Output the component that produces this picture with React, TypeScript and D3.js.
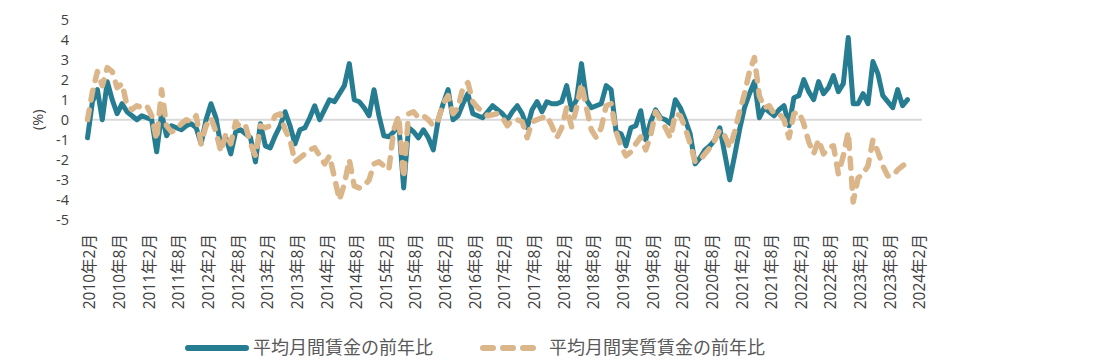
import React from "react";
import * as d3 from "d3";

// monthly y/y change (%), Feb 2010 - Dec 2023
const nominalWage = [
  -0.9, 0.9, 1.5, 0.0, 1.9, 1.0, 0.3, 0.8, 0.4, 0.2, 0.0, 0.2,
  0.1, 0.0, -1.6, 0.3, -0.8, -0.3, -0.4, -0.5, -0.3, -0.2, -0.4, -1.2,
  0.0, 0.8, 0.1, -1.3, -0.9, -1.7, -0.6, -0.5, -0.7, -0.9, -2.1, -0.2,
  -1.3, -1.4, -0.8, -0.3, 0.4, -0.3, -1.2, -0.5, -0.4, 0.1, 0.7, 0.0,
  0.5, 1.0, 0.9, 1.3, 1.7, 2.8, 1.0, 0.9, 0.6, 0.2, 1.5, 0.2,
  -0.8, -0.85, -0.6, -0.2, -3.4, -0.4, -0.6, -0.9, -0.5, -0.9, -1.5, 0.0,
  0.8, 1.5, 0.0, 0.2, 0.8, 1.3, 0.3, 0.2, 0.1, 0.4, 0.7, 0.5,
  0.3, 0.0, 0.4, 0.7, 0.3, -0.4, 0.5, 0.9, 0.4, 0.9, 0.8, 0.8,
  0.9, 1.7, 0.5, 1.0, 2.8, 1.0, 0.6, 0.7, 0.8, 1.7, 1.5, -0.6,
  -0.7, -1.3, -0.4, -0.3, 0.45, -1.0, -0.1, 0.5, 0.1, 0.0, -0.2, 1.0,
  0.6, 0.0, -0.7, -2.2, -1.9, -1.5, -1.3, -1.0, -0.4, -1.7, -3.0, -1.8,
  -0.5, 0.6, 1.3, 1.9, 0.1, 0.6, 0.4, 0.2, 0.5, 0.7, -0.3, 1.1,
  1.2, 2.0, 1.4, 1.0, 1.9, 1.3, 1.6, 2.2, 1.4, 1.8, 4.1, 0.8,
  0.8, 1.3, 0.8, 2.9, 2.3, 1.2, 0.9, 0.6, 1.5, 0.7, 1.0,
];

const realWage = [
  0.0, 1.4, 2.4, 1.7, 2.6, 2.4, 1.6, 1.8, 0.7, 0.5, 0.7, 0.6,
  0.7, 0.2, -1.0, 1.5, -0.3, -0.6, -0.5, -0.2, 0.0, -0.1, 0.2, -1.2,
  -0.3, 0.1, -0.6, -1.6, -0.7, -1.2, -0.1, -0.4, -0.3, -1.2, -1.8, -0.3,
  -0.4, -0.3, 0.2, 0.3, -0.5, -1.0, -2.1, -1.9, -1.7, -1.5, -1.4, -1.8,
  -2.2, -1.8, -2.9, -4.0, -3.2, -2.0, -3.3, -3.4, -3.3, -3.0, -2.2, -2.1,
  -2.3, -2.5, -0.5, 0.2, -2.9, 0.3, 0.4, 0.1, 0.2, 0.0, -0.3, 0.0,
  0.8, 1.2, 0.3, 0.6, 1.6, 1.85, 0.9, 0.6, 0.4, 0.2, 0.25, 0.3,
  0.1, -0.3, 0.0, 0.0, -0.1, -0.9, -0.1, 0.0, 0.1, 0.2, -0.3, -0.9,
  -0.4, 0.6, -0.35, 0.6, 1.8, 0.6, -0.5, -0.9, -0.4, 0.7, 0.8, -0.6,
  -1.3, -1.8, -1.6, -1.2, -0.85, -1.5, -0.8, 0.4, 0.0, -0.4, -0.9, 0.3,
  0.2, -0.4, -1.2, -2.1, -2.0, -1.7, -1.4, -1.0, -0.5, -0.8, -1.4, -0.6,
  0.4, 1.3, 2.4, 3.1, 1.2, 0.6, 0.7, 0.3, 0.3, 0.0, -0.9, 0.3,
  0.4, -0.2, -1.1, -1.7, -1.0, -1.7, -1.4, -1.3, -2.7, -1.8, -0.6, -4.1,
  -2.9, -2.7, -2.3, -1.0, -1.6, -2.3, -2.8, -2.8, -2.5, -2.3, -2.1,
];

const tickLabels = [
  "2010年2月", "2010年8月", "2011年2月", "2011年8月", "2012年2月", "2012年8月",
  "2013年2月", "2013年8月", "2014年2月", "2014年8月", "2015年2月", "2015年8月",
  "2016年2月", "2016年8月", "2017年2月", "2017年8月", "2018年2月", "2018年8月",
  "2019年2月", "2019年8月", "2020年2月", "2020年8月", "2021年2月", "2021年8月",
  "2022年2月", "2022年8月", "2023年2月", "2023年8月", "2024年2月",
];

const yTicks = [5, 4, 3, 2, 1, 0, -1, -2, -3, -4, -5];

const seriesNames = ["平均月間賃金の前年比", "平均月間実質賃金の前年比"];
const colors = ["#267d92", "#dbb68a"];

const FONT = '"Open Sans", "Noto Sans CJK JP", sans-serif';
const DASH = "10 10";

export default function App() {
  const nMonths = (tickLabels.length - 1) * 6; // Feb 2010 .. Feb 2024
  const x = d3.scaleLinear().domain([0, nMonths]).range([87.5, 917.4]);
  const y = d3.scaleLinear().domain([-5, 5]).range([220, 19.5]);

  const line = d3
    .line<number>()
    .x((_, i) => x(i))
    .y((d) => y(d));

  return (
    <svg
      width={1102}
      height={362}
      style={{ position: "absolute", left: 0, top: 0, background: "#fff" }}
      fontFamily={FONT}
    >
      {/* zero line */}
      <line x1={x(0) - 2.5} x2={x(nMonths) + 4.5} y1={y(0)} y2={y(0)} stroke="#d9d9d9" strokeWidth={2} />

      {/* y axis labels */}
      {yTicks.map((t) => (
        <text key={t} x={69} y={y(t)} dy="0.35em" textAnchor="end" fontSize={14.5} fill="#404040">
          {t}
        </text>
      ))}
      <text
        transform={`translate(38,${y(0)}) rotate(-90)`}
        textAnchor="middle"
        dy="0.35em"
        fontSize={14.5}
        fill="#404040"
      >
        (%)
      </text>

      {/* x axis labels */}
      {tickLabels.map((lab, k) => (
        <text
          key={lab}
          transform={`translate(${x(k * 6) + 2.5},234) rotate(-90)`}
          textAnchor="end"
          dy="0.35em"
          fontSize={15.5}
          fill="#404040"
        >
          {lab}
        </text>
      ))}

      {/* series */}
      <path d={line(nominalWage) ?? ""} fill="none" stroke={colors[0]} strokeWidth={5} strokeLinejoin="round" strokeLinecap="round" />
      <path
        d={line(realWage) ?? ""}
        fill="none"
        stroke={colors[1]}
        strokeWidth={5.5}
        strokeLinejoin="round"
        strokeLinecap="round"
        strokeDasharray={DASH}
      />

      {/* legend */}
      <line x1={188} x2={246} y1={348} y2={348} stroke={colors[0]} strokeWidth={6} strokeLinecap="round" />
      <text x={253} y={348} dy="0.35em" fontSize={18} fill="#595959">
        {seriesNames[0]}
      </text>
      <line
        x1={483}
        x2={534}
        y1={348}
        y2={348}
        stroke={colors[1]}
        strokeWidth={6}
        strokeLinecap="round"
        strokeDasharray={DASH}
      />
      <text x={549} y={348} dy="0.35em" fontSize={18} fill="#595959">
        {seriesNames[1]}
      </text>
    </svg>
  );
}
